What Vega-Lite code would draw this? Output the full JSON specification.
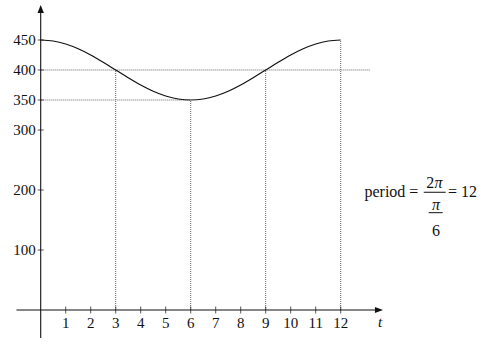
{
  "$schema": "https://vega.github.io/schema/vega-lite/v6.json",
  "width": 485,
  "height": 355,
  "autosize": {"type": "fit", "contains": "padding"},
  "padding": 0,
  "background": "white",
  "config": {"view": {"stroke": null}},
  "datasets": {
    "curve": [
      {"x": 0, "y": 450}, {"x": 0.5, "y": 448.296}, {"x": 1, "y": 443.301}, {"x": 1.5, "y": 435.355},
      {"x": 2, "y": 425}, {"x": 2.5, "y": 412.941}, {"x": 3, "y": 400}, {"x": 3.5, "y": 387.059},
      {"x": 4, "y": 375}, {"x": 4.5, "y": 364.645}, {"x": 5, "y": 356.699}, {"x": 5.5, "y": 351.704},
      {"x": 6, "y": 350}, {"x": 6.5, "y": 351.704}, {"x": 7, "y": 356.699}, {"x": 7.5, "y": 364.645},
      {"x": 8, "y": 375}, {"x": 8.5, "y": 387.059}, {"x": 9, "y": 400}, {"x": 9.5, "y": 412.941},
      {"x": 10, "y": 425}, {"x": 10.5, "y": 435.355}, {"x": 11, "y": 443.301}, {"x": 11.5, "y": 448.296},
      {"x": 12, "y": 450}
    ],
    "dots": [
      {"x": 0, "y": 400, "x2": 13.2, "y2": 400},
      {"x": 0, "y": 350, "x2": 6, "y2": 350},
      {"x": 3, "y": 0, "x2": 3, "y2": 400},
      {"x": 6, "y": 0, "x2": 6, "y2": 350},
      {"x": 9, "y": 0, "x2": 9, "y2": 400},
      {"x": 12, "y": 0, "x2": 12, "y2": 450}
    ],
    "axes": [
      {"x": -0.97, "y": 0, "x2": 13.45, "y2": 0},
      {"x": 0, "y": -46.7, "x2": 0, "y2": 498}
    ],
    "arrows": [
      {"x": 13.53, "y": 0, "dir": "right"},
      {"x": 0, "y": 501.7, "dir": "up"}
    ],
    "xticks": [
      {"x": 1, "y": 0, "label": "1"}, {"x": 2, "y": 0, "label": "2"}, {"x": 3, "y": 0, "label": "3"},
      {"x": 4, "y": 0, "label": "4"}, {"x": 5, "y": 0, "label": "5"}, {"x": 6, "y": 0, "label": "6"},
      {"x": 7, "y": 0, "label": "7"}, {"x": 8, "y": 0, "label": "8"}, {"x": 9, "y": 0, "label": "9"},
      {"x": 10, "y": 0, "label": "10"}, {"x": 11, "y": 0, "label": "11"}, {"x": 12, "y": 0, "label": "12"}
    ],
    "yticks": [
      {"x": 0, "y": 100, "label": "100"}, {"x": 0, "y": 200, "label": "200"}, {"x": 0, "y": 300, "label": "300"},
      {"x": 0, "y": 350, "label": "350"}, {"x": 0, "y": 400, "label": "400"}, {"x": 0, "y": 450, "label": "450"}
    ],
    "tlabel": [{"x": 13.58, "y": -20, "label": "t"}],
    "period": [
      {"x": 14.03, "y": 188.8, "label": "period ="},
      {"x": 15.58, "y": 203.3, "label": "2"},
      {"x": 15.81, "y": 123.3, "label": "6"},
      {"x": 16.87, "y": 188.8, "label": "= 12"}
    ],
    "pis": [
      {"x": 15.91, "y": 203.3, "label": "π"},
      {"x": 15.81, "y": 166.7, "label": "π"}
    ],
    "bars": [
      {"x": 15.32, "y": 196.2, "x2": 16.2, "y2": 196.2},
      {"x": 15.52, "y": 162.2, "x2": 16.08, "y2": 162.2}
    ]
  },
  "encoding": {
    "x": {"field": "x", "type": "quantitative", "scale": {"domain": [-1.628, 17.772], "nice": false, "zero": false}, "axis": null},
    "y": {"field": "y", "type": "quantitative", "scale": {"domain": [-75, 516.67], "nice": false, "zero": false}, "axis": null}
  },
  "layer": [
    {
      "data": {"name": "dots"},
      "mark": {"type": "rule", "color": "#666666", "strokeWidth": 1, "strokeDash": [1, 1]},
      "encoding": {"x2": {"field": "x2"}, "y2": {"field": "y2"}}
    },
    {
      "data": {"name": "axes"},
      "mark": {"type": "rule", "color": "#111111", "strokeWidth": 1.1},
      "encoding": {"x2": {"field": "x2"}, "y2": {"field": "y2"}}
    },
    {
      "data": {"name": "arrows"},
      "mark": {"type": "point", "filled": true, "color": "#111111", "size": 64, "opacity": 1},
      "encoding": {
        "shape": {"field": "dir", "type": "nominal", "legend": null,
          "scale": {"domain": ["right", "up"], "range": ["M-1,-0.75L1,0L-1,0.75Z", "M-0.8,1L0,-1L0.8,1Z"]}}
      }
    },
    {
      "data": {"name": "xticks"},
      "mark": {"type": "tick", "orient": "vertical", "size": 7, "thickness": 1, "color": "#111111"}
    },
    {
      "data": {"name": "xticks"},
      "mark": {"type": "text", "font": "Liberation Serif", "fontSize": 15, "color": "#111111", "align": "center", "baseline": "middle", "dy": 13},
      "encoding": {"text": {"field": "label"}}
    },
    {
      "data": {"name": "yticks"},
      "mark": {"type": "tick", "orient": "horizontal", "size": 6, "thickness": 1, "color": "#111111"}
    },
    {
      "data": {"name": "yticks"},
      "mark": {"type": "text", "font": "Liberation Serif", "fontSize": 15, "color": "#111111", "align": "right", "baseline": "middle", "dx": -5},
      "encoding": {"text": {"field": "label"}}
    },
    {
      "data": {"name": "tlabel"},
      "mark": {"type": "text", "font": "Liberation Serif", "fontSize": 15, "fontStyle": "italic", "color": "#111111", "align": "center", "baseline": "middle"},
      "encoding": {"text": {"field": "label"}}
    },
    {
      "data": {"name": "curve"},
      "mark": {"type": "line", "color": "#111111", "strokeWidth": 1.2, "interpolate": "monotone"}
    },
    {
      "data": {"name": "period"},
      "mark": {"type": "text", "font": "Liberation Serif", "fontSize": 16, "color": "#111111", "align": "center", "baseline": "alphabetic"},
      "encoding": {"text": {"field": "label"}}
    },
    {
      "data": {"name": "pis"},
      "mark": {"type": "text", "font": "Liberation Serif", "fontSize": 16, "fontStyle": "italic", "color": "#111111", "align": "center", "baseline": "alphabetic"},
      "encoding": {"text": {"field": "label"}}
    },
    {
      "data": {"name": "bars"},
      "mark": {"type": "rule", "color": "#111111", "strokeWidth": 1},
      "encoding": {"x2": {"field": "x2"}, "y2": {"field": "y2"}}
    }
  ]
}
